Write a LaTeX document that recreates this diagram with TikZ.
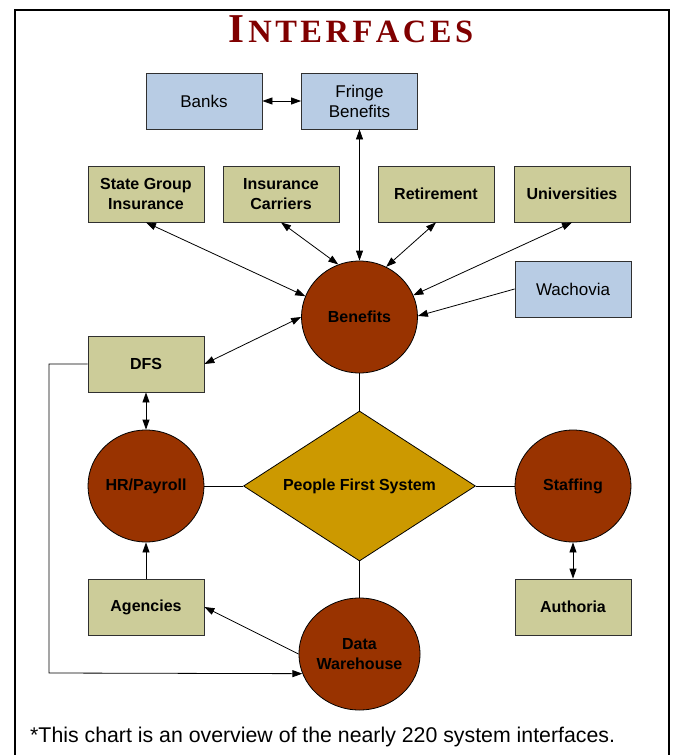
\documentclass[tikz,border=0pt]{standalone}
\usepackage{fontspec}
\setmainfont{Liberation Sans}
\newfontfamily\titlefont{Liberation Serif}
\usetikzlibrary{shapes.geometric,arrows.meta}
\definecolor{boxblue}{HTML}{B8CCE4}
\definecolor{boxolive}{HTML}{CCCC99}
\definecolor{rust}{HTML}{993300}
\definecolor{gold}{HTML}{CC9900}
\definecolor{titlered}{HTML}{800000}
\definecolor{edgegray}{HTML}{303030}
\begin{document}
\begin{tikzpicture}[x=1pt,y=-1pt,
  bluebox/.style={draw=edgegray, line width=0.8pt, fill=boxblue, minimum width=116pt, minimum height=56pt, inner sep=0pt, align=center, font=\fontsize{17}{20}\selectfont},
  olivebox/.style={draw=edgegray, line width=0.8pt, fill=boxolive, minimum width=116pt, minimum height=56pt, inner sep=0pt, align=center, font=\fontsize{16}{20}\selectfont\bfseries},
  sysell/.style={ellipse, draw=black, line width=0.8pt, fill=rust, minimum width=116pt, minimum height=112pt, inner sep=0pt, align=center, font=\fontsize{16}{20}\selectfont\bfseries},
  conn/.style={line width=0.8pt, draw=black},
  onearrow/.style={conn, -{Triangle[length=10pt,width=7pt]}},
  twoarrow/.style={conn, {Triangle[length=10pt,width=7pt]}-{Triangle[length=10pt,width=7pt]}}
]
\useasboundingbox (0,0) rectangle (673,755);
\clip (0,0) rectangle (673,755);
\fill[white] (0,0) rectangle (673,755);
\draw[line width=2.5pt] (15,10) rectangle (669,800);

\node[anchor=base, text=titlered, inner sep=0pt] (title) at (351,42)
  {\titlefont\bfseries\fontsize{41}{41}\selectfont I\kern3.5pt\fontsize{32.5}{32.5}\selectfont N\kern3.5pt T\kern3.5pt E\kern3.5pt R\kern3.5pt F\kern3.5pt A\kern3.5pt C\kern3.5pt E\kern3.5pt S};

% boxes
\node[bluebox] (banks) at (204,101) {Banks};
\node[bluebox] (fringe) at (359.5,101) {Fringe\\Benefits};
\node[olivebox] (sgi) at (146,194) {State Group\\Insurance};
\node[olivebox] (ic) at (281,194) {Insurance\\Carriers};
\node[olivebox] (ret) at (436,194) {Retirement};
\node[olivebox] (uni) at (572,194) {Universities};
\node[bluebox] (wach) at (573,289) {Wachovia};
\node[olivebox] (dfs) at (146,364) {DFS};
\node[olivebox] (agen) at (146,607) {Agencies};
\node[olivebox] (auth) at (573,607) {Authoria};

% ellipses
\node[sysell] (ben) at (359.5,317) {Benefits};
\node[sysell] (hr) at (146,486) {HR/Payroll};
\node[sysell] (staff) at (573,486) {Staffing};
\node[sysell] (dw) at (359.5,654) {Data\\Warehouse};

% diamond
\node[diamond, shape aspect=1.547, draw=black, line width=0.8pt, fill=gold, minimum width=232pt, minimum height=150pt, inner sep=0pt, font=\fontsize{16}{20}\selectfont\bfseries] (pfs) at (359.5,486) {People First System};

% connectors
\draw[twoarrow] (banks.east) -- (fringe.west);
\draw[twoarrow] (ben.north) -- (fringe.south);
\draw[twoarrow] (sgi.south) -- (ben.159);
\draw[twoarrow] (ic.south) -- (ben.112);
\draw[twoarrow] (ret.south) -- (ben.62);
\draw[twoarrow] (uni.south) -- (ben.22);
\draw[onearrow] (wach.west) -- (ben.1);
\draw[twoarrow] (dfs.east) -- (ben.180);
\draw[twoarrow] (dfs.south) -- (hr.north);
\coordinate (corner) at (49,673);
\draw[onearrow] (dfs.west) -| (corner) -- (dw.199);
\draw[conn] (ben.south) -- (pfs.north);
\draw[conn] (hr.east) -- (pfs.west);
\draw[conn] (pfs.east) -- (staff.west);
\draw[conn] (pfs.south) -- (dw.north);
\draw[onearrow] (agen.north) -- (hr.south);
\draw[onearrow] (dw.180) -- (agen.east);
\draw[twoarrow] (staff.south) -- (auth.north);

\node[anchor=base west, inner sep=0pt, font=\fontsize{21.3}{24}\selectfont] (note) at (30,742)
  {*This chart is an overview of the nearly 220 system interfaces.};
\end{tikzpicture}
\end{document}
